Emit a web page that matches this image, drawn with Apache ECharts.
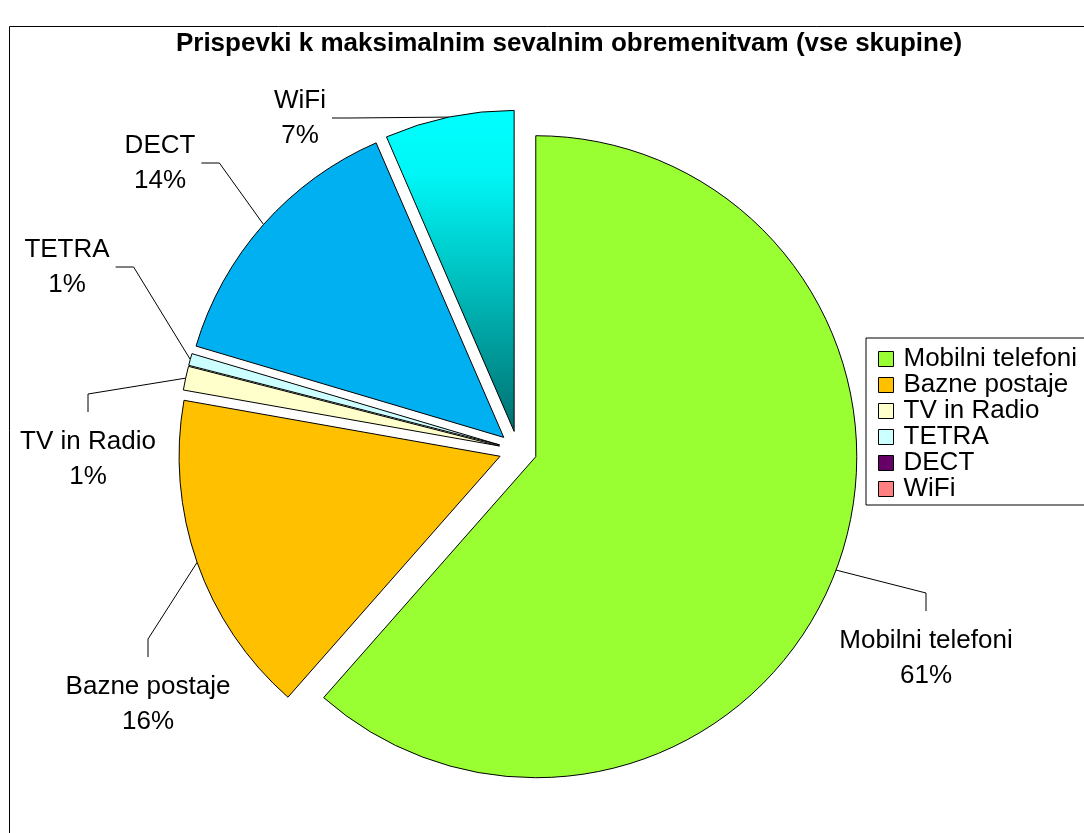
<!DOCTYPE html>
<html>
<head>
<meta charset="UTF-8" />
<script src="https://cdn.jsdelivr.net/npm/echarts@6/dist/echarts.min.js"></script>
<title>Prispevki</title>
<style>
	body {
		margin: 0;
		background-color: #fff;
	}
	#chart {
		width: 1084px;
		height: 833px;
	}
</style>
</head>
<body>
<div id="chart"></div>
<script>
	// podatki (odčitano s slike, v %)
	var kategorije = ['Mobilni telefoni', 'Bazne postaje', 'TV in Radio', 'TETRA', 'DECT', 'WiFi']
	var delezi = [61.49, 16.3, 1.2, 0.6, 13.9, 6.51]

	// barve rezin in (drugačne) barve v legendi, kot v Excelu
	var barveRezin = ['#99FF33', '#FFC000', '#FFFFCC', '#CCFFFF', '#00B0F0', null]
	var barveLegende = ['#99FF33', '#FFC000', '#FFFFCC', '#CCFFFF', '#660066', '#FF8080']

	// središča oznak (postavitev)
	var polozajOznak = [[926, 658], [148, 704], [88, 459], [67, 267], [160, 163], [300, 118]]

	var cx = 518, cy = 450, polmer = 321, odmik = 19
	var pisava = 'Arial, Liberation Sans, sans-serif'

	var wifiBarva = {
		type: 'linear', x: 0, y: 0, x2: 0, y2: 1,
		colorStops: [
			{ offset: 0, color: '#00FFFF' },
			{ offset: 0.2, color: '#00F6F6' },
			{ offset: 1, color: '#007070' },
		],
	}

	var chart = echarts.init(document.getElementById('chart'))

	var vsota = delezi.reduce(function (a, b) { return a + b }, 0)

	// vsaka rezina je svoja serija, premaknjena od središča (kot "explode" v Excelu)
	var serije = []
	var kot = 0
	kategorije.forEach(function (ime, i) {
		var sirina = (delezi[i] / vsota) * Math.PI * 2
		var sred = kot + sirina / 2
		kot += sirina
		serije.push({
			type: 'pie',
			center: [cx + odmik * Math.sin(sred), cy - odmik * Math.cos(sred)],
			radius: [0, polmer],
			startAngle: 90,
			avoidLabelOverlap: false,
			emphasis: { disabled: true },
			z: 2,
			data: kategorije.map(function (n, j) {
				if (j !== i) {
					return {
						name: n,
						value: delezi[j],
						itemStyle: { color: 'rgba(0,0,0,0)', borderWidth: 0 },
						label: { show: false },
						labelLine: { show: false },
					}
				}
				return {
					name: n,
					value: delezi[j],
					itemStyle: { color: barveRezin[j] || wifiBarva, borderColor: '#000', borderWidth: 1 },
				}
			}),
			label: {
				show: true,
				position: 'outside',
				color: '#000',
				fontFamily: pisava,
				fontSize: 26,
				lineHeight: 35,
				align: 'center',
				formatter: function (p) {
					return p.name + '\n' + Math.round(p.percent) + '%'
				},
			},
			labelLine: {
				show: true,
				length: 20,
				length2: 20,
				lineStyle: { color: '#000', width: 1 },
			},
			labelLayout: function (p) {
				var pos = polozajOznak[p.dataIndex]
				var w = p.labelRect.width
				var h = p.labelRect.height
				var start = p.labelLinePoints ? p.labelLinePoints[0] : pos
				var pts
				if (p.dataIndex <= 2) {
					pts = [start, [pos[0], pos[1] - h / 2 - 30], [pos[0], pos[1] - h / 2 - 12]]
				} else {
					var ex = pos[0] + w / 2 + 6
					pts = [start, [ex + 18, pos[1]], [ex, pos[1]]]
				}
				return {
					x: pos[0],
					y: pos[1],
					align: 'center',
					verticalAlign: 'middle',
					labelLinePoints: pts,
				}
			},
		})
	})

	var option = {
		animation: false,
		title: {
			text: 'Prispevki k maksimalnim sevalnim obremenitvam (vse skupine)',
			left: 569,
			textAlign: 'center',
			top: 31,
			padding: 0,
			textStyle: {
				fontFamily: pisava,
				fontSize: 26,
				fontWeight: 'bold',
				color: '#000',
			},
		},
		legend: {
			orient: 'vertical',
			left: 866,
			top: 338,
			padding: [8, 40, 3, 12],
			borderColor: '#000',
			borderWidth: 1,
			itemWidth: 15,
			itemHeight: 15,
			itemGap: 0,
			selectedMode: false,
			icon: 'rect',
			itemStyle: { borderColor: '#000', borderWidth: 1 },
			textStyle: {
				fontFamily: pisava,
				fontSize: 26,
				lineHeight: 25,
				color: '#000',
				padding: [0, 0, 0, 5],
			},
			data: kategorije.map(function (ime, i) {
				return { name: ime, itemStyle: { color: barveLegende[i] } }
			}),
		},
		graphic: [
			{
				type: 'rect',
				z: -1,
				shape: { x: 9.5, y: 26.5, width: 1200, height: 900 },
				style: { fill: 'none', stroke: '#000', lineWidth: 1 },
			},
		],
		series: serije,
	}

	chart.setOption(option)
</script>
</body>
</html>
